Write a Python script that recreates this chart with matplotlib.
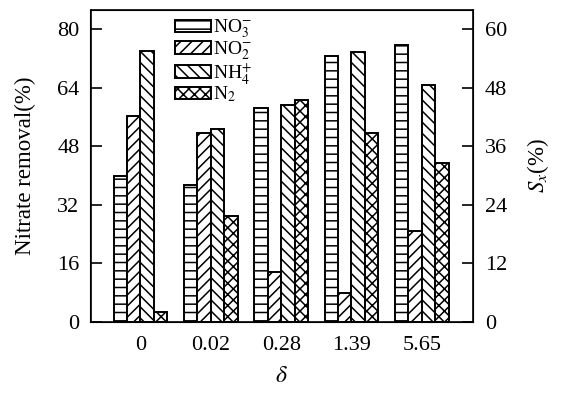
import matplotlib
matplotlib.use("Agg")
import matplotlib.pyplot as plt
import numpy as np

plt.rcParams['font.family'] = ['Liberation Serif', 'DejaVu Serif']
plt.rcParams['mathtext.fontset'] = 'stix'
plt.rcParams['hatch.linewidth'] = 1.1

categories = ['0', '0.02', '0.28', '1.39', '5.65']
series_labels = [r'NO$_3^{-}$', r'NO$_2^{-}$', r'NH$_4^{+}$', r'N$_2$']
no3 = [40.0, 37.5, 58.5, 72.7, 75.6]
no2 = [56.3, 51.7, 13.6, 7.9, 25.0]
nh4 = [74.1, 52.8, 59.4, 73.9, 64.9]
n2 = [2.7, 28.9, 60.6, 51.6, 43.5]
left_ticks = [0, 16, 32, 48, 64, 80]
right_ticks = [0, 12, 24, 36, 48, 60]

series = [no3, no2, nh4, n2]
hatches = ['--', '///', '\\\\\\', 'xxx']

fig = plt.figure(figsize=(5.62, 3.95), dpi=100)
ax = fig.add_axes([90.5/562, 1-322/395, (472.5-90.5)/562, (322-10)/395])

x = np.arange(len(categories))
w = 0.19
for i, (vals, h, lab) in enumerate(zip(series, hatches, series_labels)):
    ax.bar(x + (i - 1.5) * w, vals, w, facecolor='white', edgecolor='black',
           hatch=h, linewidth=1.4, label=lab)

ax.set_xlim(-0.71, 4.72)
ax.set_ylim(0, 85.3)
ax.set_xticks(x)
ax.set_xticklabels(categories)
ax.set_yticks(left_ticks)
ax.tick_params(axis='x', length=0, labelsize=16, pad=10)
ax.tick_params(axis='y', direction='in', length=8, width=1.2, labelsize=16, pad=8)
for s in ax.spines.values():
    s.set_linewidth(1.2)
ax.set_ylabel('Nitrate removal(%)', fontsize=16.5, labelpad=15)
ax.set_xlabel(r'$\delta$', fontsize=17, labelpad=8)

ax2 = ax.twinx()
ax2.set_ylim(0, 85.3 * 0.75)
ax2.set_yticks(right_ticks)
ax2.tick_params(axis='y', direction='in', length=8, width=1.2, labelsize=16, pad=9)
ax2.set_ylabel(r'$S_x$(%)', fontsize=16.5, labelpad=13)

leg = ax.legend(loc='upper left', bbox_to_anchor=(0.222, 0.975), frameon=False,
                fontsize=14, handlelength=1.85, handleheight=0.6,
                labelspacing=-0.05, handletextpad=0.1, borderaxespad=0.0,
                borderpad=0.0)

fig.savefig('out.png', dpi=100)
